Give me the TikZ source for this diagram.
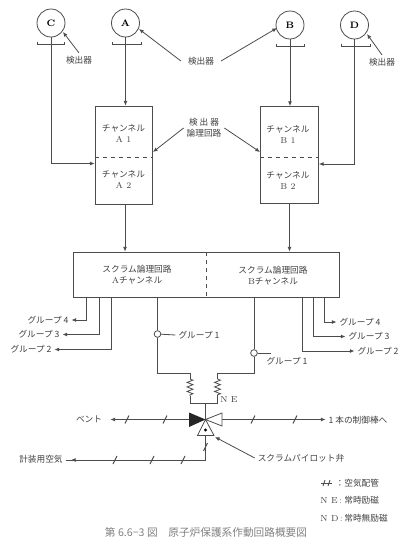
\documentclass[tikz,border=0pt]{standalone}
\usepackage{fontspec}
\newfontfamily\cjk{Noto Sans CJK JP}
\usetikzlibrary{arrows.meta}
\usetikzlibrary{decorations.pathmorphing}
\tikzset{
  every picture/.style={
    line width=0.6pt,
    draw=black!70,
    >={Latex[width=3pt, length=3.5pt]}
  },
  detector/.style={
    circle, draw, minimum width=21pt,
    inner sep=0pt, font=\scriptsize\bfseries
  },
  lbl/.style={
    inner sep=2pt, text=black!75, align=center,
    font=\cjk\fontsize{6.5}{8}\selectfont
  },
  coil/.style={
    decorate, decoration={zigzag,segment length=3.4pt,amplitude=2.2pt}
  },
  port/.style={
    circle, draw, minimum width=5pt, inner sep=0pt
  },
  tick/.style={
    line width=0.7pt
  }
}
\begin{document}
\begin{tikzpicture}[x=0.75pt,y=-0.75pt]
  \useasboundingbox (0,0) rectangle (399,537);
  % detectors
  \node [detector] (C) at (51,23) {C};
  \node [detector] (A) at (125.5,23) {A};
  \node [detector] (B) at (290,25) {B};
  \node [detector] (D) at (354.5,25) {D};
  \foreach \xa/\xb/\y in {37.5/64.5/44,112/141/44.5,276/304/46,341/370/46}
    \draw (\xa,\y-2.5) -- (\xa,\y) -- (\xb,\y) -- (\xb,\y-2.5);
  % channels
  \node [draw,minimum width=42.75pt,minimum height=73.5pt,inner sep=0pt] (chA) at (123.5,155) {};
  \node [draw,minimum width=43.5pt,minimum height=72.75pt,inner sep=0pt] (chB) at (289.5,155) {};
  \draw [dashed] (chA.west |- 0,157) coordinate (a1) -- (chA.east |- 0,157) coordinate (a2);
  \draw [dashed] (chB.west |- 0,157.5) coordinate (b1) -- (chB.east |- 0,157.5) coordinate (b2);
  \node [lbl] (tA1) at (123.5,133.5) {チャンネル\\{\rmfamily A 1}};
  \node [lbl] (tA2) at (123.5,179.5) {チャンネル\\{\rmfamily A 2}};
  \node [lbl] (tB1) at (288,134.5) {チャンネル\\{\rmfamily B 1}};
  \node [lbl] (tB2) at (288,180.5) {チャンネル\\{\rmfamily B 2}};
  % scram box
  \node [draw,minimum width=199.5pt,minimum height=33.75pt,inner sep=0pt] (scram) at (206,274.5) {};
  \draw [dashed] (scram.north -| 206.5,0) -- (scram.south -| 206.5,0);
  \node [lbl] (tSA) at (137,275) {スクラム論理回路\\{\rmfamily A}チャンネル};
  \node [lbl] (tSB) at (273,275.5) {スクラム論理回路\\{\rmfamily B}チャンネル};
  % detector lines
  \draw [->] (A) -- (A |- chA.north);
  \draw [->] (B) -- (B |- chB.north);
  \draw [->] (C) |- (chA.west |- 0,163.5);
  \draw [->] (D) |- (chB.east |- 0,164);
  \draw [->] (chA.south -| 125,0) -- (scram.north -| 125,0);
  \draw [->] (chB.south -| 289.5,0) -- (scram.north -| 289.5,0);
  % detector labels
  \node [lbl] (l1) at (79,60) {検出器};
  \node [lbl] (l2) at (201,61) {検出器};
  \node [lbl] (l3) at (382,62) {検出器};
  \node [lbl] (l4) at (204,128) {検 出 器\\論理回路};
  \draw [->] (l1.north) -- (63,32);
  \draw [->] ([xshift=-3pt]l2.west) -- (139,29);
  \draw [->] ([xshift=3pt]l2.east) -- (277,28);
  \draw [->] (l3.north) -- (367,34);
  \draw [->] (l4.west) -- (153,152);
  \draw [->] (l4.east) -- (260,152);
  % groups
  \node [lbl] (g4L) at (48,320) {グループ 4};
  \node [lbl] (g3L) at (39,334.5) {グループ 3};
  \node [lbl] (g2L) at (31,349.5) {グループ 2};
  \node [lbl] (g4R) at (360,322) {グループ 4};
  \node [lbl] (g3R) at (369,336.5) {グループ 3};
  \node [lbl] (g2R) at (378,351) {グループ 2};
  \draw [->] (scram.south -| 86,0) |- (g4L.east);
  \draw [->] (scram.south -| 99,0) |- (g3L.east);
  \draw [->] (scram.south -| 111.5,0) |- (g2L.east);
  \draw [->] (scram.south -| 324,0) |- (g4R.west);
  \draw [->] (scram.south -| 313,0) |- (g3R.west);
  \draw [->] (scram.south -| 302,0) |- (g2R.west);
  % solenoids
  \node [port] (oL) at (157.5,334) {};
  \node [port] (oR) at (254,353) {};
  \node [lbl] (g1L) at (199,335) {グループ 1};
  \node [lbl] (g1R) at (287,361) {グループ 1};
  \draw (oL) -- (g1L.west);
  \draw (oR.east) -- ++(13,0);
  \draw (scram.south -| oL) -- (oL) -- (157.5,373) -- (190,373) -- (190,379);
  \draw (scram.south -| oR) -- (oR) -- (254,373) -- (217.5,373) -- (217.5,379);
  \draw [coil] (190,379) -- (190,396);
  \draw [coil] (217.5,379) -- (217.5,396);
  \draw (190,396) -- (190,403) -- (217.5,403) -- (217.5,396);
  \node [lbl] (ne) at (229,400) {\rmfamily N E};
  % valve
  \coordinate (v) at (205.5,419.5);
  \draw (205.5,403) -- (v);
  \fill [black!85] (v) -- (189,412.5) -- (189,427) -- cycle;
  \draw (v) -- (222,413) -- (222,426) -- cycle;
  \draw (v) -- (197.5,435.5) -- (214,435.5) -- cycle;
  \fill (205.5,430) circle (1.2pt);
  % piping
  \node [lbl] (vent) at (89,419) {ベント};
  \node [lbl] (rod) at (358,420) {1 本の制御棒へ};
  \node [lbl] (air) at (41,459) {計装用空気};
  \node [lbl] (pilot) at (301,458) {スクラムパイロット弁};
  \draw [->] (189,419.5) -- ([xshift=4pt]vent.east |- 0,419.5);
  \draw [->] (222,419.5) -- (rod.west |- 0,419.5);
  \draw [->] (205.5,436) |- ([xshift=4pt]air.east |- 0,460);
  \draw (air.east |- 0,460) -- ++(8,0);
  \draw [->] (pilot.west) -- (215,437);
  \foreach \x/\y in {127/419.5,165/419.5,253/419.5,295/419.5,115/460,152/460,183/460,205.5/447}
    \draw [tick] (\x-2,\y+4) -- (\x+2,\y-4);
  % legend
  \node [lbl,anchor=west,inner sep=0pt] (k1) at (320,483) {\makebox[18pt][r]{：}空気配管};
  \node [lbl,anchor=west,inner sep=0pt] (k2) at (320,500) {\makebox[18pt][l]{\rmfamily N E\,:}常時励磁};
  \node [lbl,anchor=west,inner sep=0pt] (k3) at (320,518) {\makebox[18pt][l]{\rmfamily N D\,:}常時無励磁};
  \draw (321,483) -- (332,483);
  \draw [tick] (323,486) -- (325,480);
  \draw [tick] (328,486) -- (330,480);
  \node [lbl,text=black!50,font=\cjk\fontsize{8}{8}\selectfont] (cap) at (206,532) {第 6.6−3 図\quad 原子炉保護系作動回路概要図};
\end{tikzpicture}
\end{document}
